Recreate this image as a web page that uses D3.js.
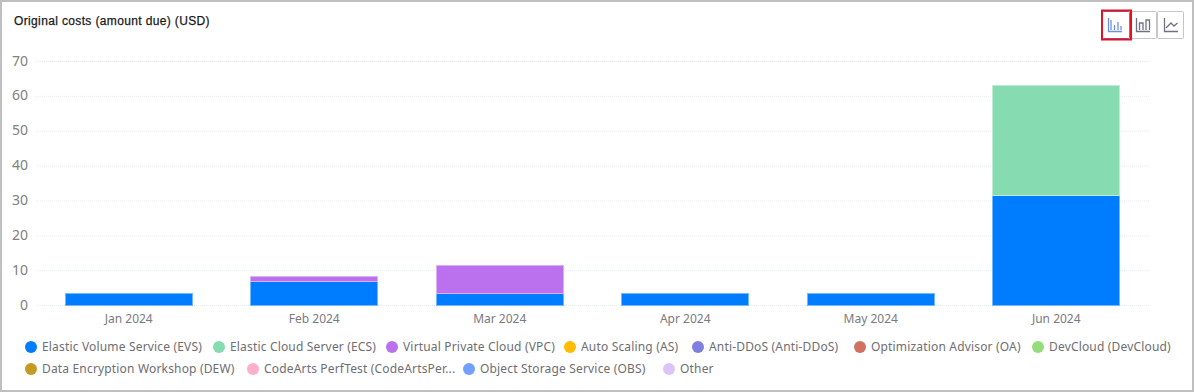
<!DOCTYPE html>
<html>
<head>
<meta charset="utf-8">
<style>
  html, body { margin: 0; padding: 0; background: #fff; }
  svg { display: block; }
</style>
<script src="https://cdn.jsdelivr.net/npm/d3@7"></script>
</head>
<body>
<div id="chart"></div>
<script>
// data
const months = ['Jan 2024', 'Feb 2024', 'Mar 2024', 'Apr 2024', 'May 2024', 'Jun 2024'];
const evs = [3.5, 7, 3.5, 3.5, 3.5, 31.6];
const ecs = [0, 0, 0, 0, 0, 31.4];
const vpc = [0, 1.4, 8.1, 0, 0, 0];
const yTicks = [0, 10, 20, 30, 40, 50, 60, 70];
const legendRow1 = [
  ['Elastic Volume Service (EVS)', '#007dff'],
  ['Elastic Cloud Server (ECS)', '#86dcb0'],
  ['Virtual Private Cloud (VPC)', '#bb71ee'],
  ['Auto Scaling (AS)', '#ffbb00'],
  ['Anti-DDoS (Anti-DDoS)', '#7f7fdd'],
  ['Optimization Advisor (OA)', '#d0705f'],
  ['DevCloud (DevCloud)', '#94dc7c']
];
const legendRow2 = [
  ['Data Encryption Workshop (DEW)', '#c49a22'],
  ['CodeArts PerfTest (CodeArtsPer...', '#ffb0c8'],
  ['Object Storage Service (OBS)', '#73a0ff'],
  ['Other', '#dcc4fb']
];

const width = 1194, height = 392;
const uiFont = '"Noto Sans", "Open Sans", sans-serif';

const svg = d3.select('#chart').append('svg')
  .attr('width', width)
  .attr('height', height);

// screenshot frame
svg.append('rect')
  .attr('x', 1).attr('y', 1)
  .attr('width', width - 2).attr('height', height - 2)
  .attr('fill', '#fff')
  .attr('stroke', '#bfbfbf')
  .attr('stroke-width', 2);

svg.append('text')
  .attr('x', 14).attr('y', 25)
  .attr('font-family', '"Liberation Sans", Arial, sans-serif')
  .attr('font-size', 12)
  .attr('letter-spacing', 0.36)
  .attr('fill', '#1a1a1a')
  .attr('stroke', '#1a1a1a')
  .attr('stroke-width', 0.25)
  .text('Original costs (amount due) (USD)');

// scales
const x = d3.scaleBand().domain(months).range([36, 1149]).paddingInner(0.31).paddingOuter(0.155);
const y = d3.scaleLinear().domain([0, 70]).range([305, 61]);

// grid
svg.append('g').selectAll('line')
  .data(yTicks)
  .join('line')
  .attr('x1', 36).attr('x2', 1150)
  .attr('y1', d => y(d) + 0.5).attr('y2', d => y(d) + 0.5)
  .attr('stroke', '#e3ebf7')
  .attr('stroke-dasharray', '1 1');

// y labels
svg.append('g').selectAll('text')
  .data(yTicks)
  .join('text')
  .attr('x', 28).attr('y', d => y(d) + 4.5)
  .attr('text-anchor', 'end')
  .attr('font-family', uiFont)
  .attr('font-size', 14)
  .attr('fill', '#808080')
  .text(d => d);

// x labels
svg.append('g').selectAll('text')
  .data(months)
  .join('text')
  .attr('x', d => x(d) + x.bandwidth() / 2).attr('y', 323)
  .attr('text-anchor', 'middle')
  .attr('font-family', uiFont)
  .attr('font-size', 12)
  .attr('fill', '#7a7a80')
  .text(d => d);

// stacked bars
const rows = months.map((m, i) => ({ month: m, evs: evs[i], ecs: ecs[i], vpc: vpc[i] }));
const stack = d3.stack().keys(['evs', 'ecs', 'vpc']);
const barColor = { evs: '#007dff', ecs: '#86dcb0', vpc: '#bb71ee' };

svg.append('g').selectAll('g')
  .data(stack(rows))
  .join('g')
  .attr('fill', d => barColor[d.key])
  .attr('stroke', d => d3.interpolateRgb(barColor[d.key], '#fff')(0.45))
  .selectAll('rect')
  .data(d => d.filter(s => s[1] > s[0]))
  .join('rect')
  .attr('x', d => Math.round(x(d.data.month)) + 0.5)
  .attr('width', Math.round(x.bandwidth()) - 1)
  .attr('y', d => Math.round(y(d[1])) + 0.5)
  .attr('height', d => Math.round(y(d[0])) - Math.round(y(d[1])))
  .attr('stroke-width', 1);

// legend
const legendX1 = [31, 219, 392, 570, 698, 860, 1038];
const legendX2 = [31, 253, 469, 669];

function drawLegend(items, xs, cy) {
  const g = svg.append('g').selectAll('g')
    .data(items)
    .join('g')
    .attr('transform', (d, i) => `translate(${xs[i]},${cy})`);
  g.append('circle')
    .attr('r', 6)
    .attr('fill', d => d[1]);
  g.append('text')
    .attr('x', 11).attr('y', 4)
    .attr('font-family', uiFont)
    .attr('font-size', 12)
    .attr('letter-spacing', 0.17)
    .attr('fill', '#6e6e73')
    .text(d => d[0]);
}
drawLegend(legendRow1, legendX1, 347);
drawLegend(legendRow2, legendX2, 369);

// chart type buttons
const btnX = [1102, 1130, 1157];
const btnW = [28, 27, 27];
svg.append('g').selectAll('rect')
  .data(btnX)
  .join('rect')
  .attr('x', d => d + 0.5).attr('y', 11.5)
  .attr('width', (d, i) => btnW[i] - 1).attr('height', 27)
  .attr('rx', 1)
  .attr('fill', '#fff')
  .attr('stroke', (d, i) => i === 0 ? '#5e7ce0' : '#c4c6cc');

// icons
const iconBlue = '#6f8fe8', iconGrey = '#6f7280';
function icon(d, color) {
  svg.append('path')
    .attr('d', d)
    .attr('fill', 'none')
    .attr('stroke', color)
    .attr('stroke-width', 1.3);
}
icon('M1108.5 18V31.5H1122M1111 20V30M1114.5 25V30M1118 22V30M1121 26V30', iconBlue);
icon('M1136.5 18V31.5H1150M1139.5 30V23H1143V30M1146 30V20H1149.5V30', iconGrey);
icon('M1164.5 18V31.5H1178M1166 28L1171 23L1174 26L1177.5 23', iconGrey);

// red highlight around first button
svg.append('rect')
  .attr('x', 1102).attr('y', 10.5)
  .attr('width', 29).attr('height', 29)
  .attr('fill', 'none')
  .attr('stroke', '#e8101e')
  .attr('stroke-width', 2);
</script>
</body>
</html>
